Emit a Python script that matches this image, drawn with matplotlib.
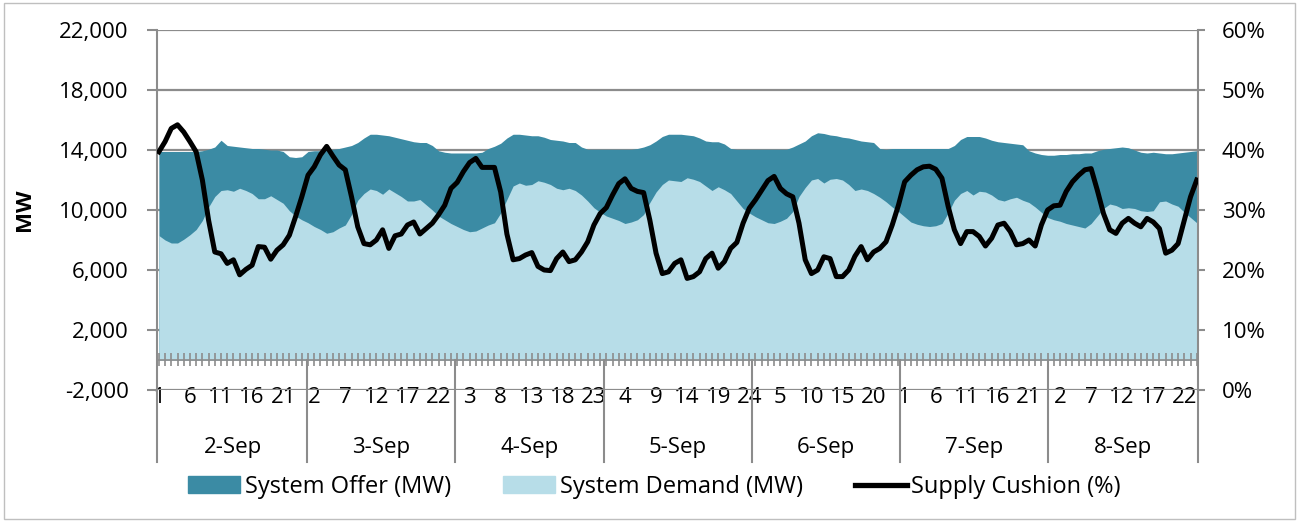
import numpy as np
import matplotlib.pyplot as plt
from matplotlib.patches import Patch, Rectangle
from matplotlib.lines import Line2D
from matplotlib.ticker import FuncFormatter

plt.rcParams['font.family'] = ['Open Sans', 'DejaVu Sans']

days = ["2-Sep", "3-Sep", "4-Sep", "5-Sep", "6-Sep", "7-Sep", "8-Sep"]

# hourly system offer (MW), 7 days x 24 h
offer = [
    13900, 13900, 13900, 13900, 13900, 13900, 13900, 13950, 14050, 14200, 14650, 14300,
    14250, 14200, 14150, 14100, 14100, 14050, 14000, 14000, 13900, 13550, 13500, 13550,
    13900, 13950, 13950, 14000, 14050, 14100, 14200, 14300, 14500, 14800, 15050, 15050,
    15000, 14950, 14850, 14750, 14650, 14550, 14500, 14500, 14300, 13950, 13850, 13800,
    13800, 13800, 13800, 13800, 13850, 14100, 14250, 14450, 14800, 15050, 15050, 15000,
    14950, 14950, 14850, 14700, 14650, 14600, 14500, 14500, 14200, 14050, 14050, 14050,
    14050, 14050, 14050, 14050, 14050, 14100, 14200, 14350, 14600, 14900, 15050, 15050,
    15050, 15000, 14950, 14800, 14600, 14550, 14550, 14400, 14100, 14050, 14050, 14050,
    14050, 14050, 14050, 14050, 14050, 14050, 14200, 14400, 14600, 14950, 15150, 15100,
    15000, 14950, 14850, 14800, 14700, 14600, 14550, 14500, 14100, 14050, 14100, 14100,
    14100, 14100, 14100, 14100, 14100, 14100, 14100, 14100, 14300, 14700, 14900, 14900,
    14900, 14800, 14650, 14550, 14500, 14450, 14400, 14350, 13950, 13800, 13700, 13650,
    13650, 13700, 13700, 13750, 13750, 13800, 13800, 13950, 14050, 14100, 14150, 14200,
    14150, 14000, 13850, 13800, 13850, 13800, 13750, 13750, 13800, 13850, 13900, 13950,
]

# hourly system demand (MW)
demand = [
    8300, 8000, 7800, 7800, 8050, 8350, 8700, 9300, 10200, 10900, 11300, 11350,
    11250, 11450, 11300, 11100, 10750, 10750, 10950, 10700, 10450, 9950, 9600, 9350,
    9150, 8900, 8700, 8450, 8550, 8800, 9000, 9700, 10650, 11100, 11400, 11300,
    11050, 11400, 11150, 10900, 10600, 10600, 10700, 10350, 10000, 9600, 9350, 9100,
    8900, 8700, 8550, 8600, 8800, 9000, 9150, 9800, 10700, 11600, 11800, 11650,
    11700, 11950, 11850, 11700, 11450, 11350, 11450, 11300, 11000, 10600, 10150, 9850,
    9600, 9450, 9300, 9100, 9200, 9350, 9700, 10500, 11200, 11700, 12000, 11950,
    11900, 12150, 12050, 11900, 11600, 11300, 11550, 11350, 11100, 10600, 10100, 9800,
    9550, 9350, 9150, 9100, 9250, 9450, 9900, 10900, 11500, 12000, 12100, 11800,
    12050, 12100, 12000, 11700, 11300, 11400, 11300, 11100, 10850, 10550, 10200, 9900,
    9550, 9200, 9050, 8950, 8900, 8950, 9100, 9800, 10650, 11100, 11300, 11000,
    11250, 11200, 11000, 10700, 10600, 10750, 10850, 10650, 10500, 10200, 9850, 9500,
    9350, 9250, 9100, 9000, 8900, 8800, 9100, 9600, 10100, 10400, 10300, 10100,
    10150, 10100, 9950, 9900, 9950, 10550, 10600, 10400, 10250, 9850, 9500, 9150,
]

# hourly supply cushion (%)
cushion = [
    39.7, 41.4, 43.6, 44.2, 43.0, 41.4, 39.7, 35.0, 28.3, 23.0, 22.7, 21.1,
    21.7, 19.2, 20.1, 20.8, 23.9, 23.8, 21.8, 23.3, 24.2, 25.8, 28.9, 32.2,
    35.8, 37.2, 39.2, 40.6, 39.0, 37.5, 36.7, 32.2, 27.2, 24.4, 24.2, 25.0,
    26.7, 23.6, 25.7, 26.0, 27.5, 28.0, 26.0, 26.9, 27.8, 29.2, 30.8, 33.6,
    34.6, 36.4, 37.9, 38.6, 37.1, 37.1, 37.1, 33.0, 26.0, 21.7, 21.9, 22.5,
    22.9, 20.6, 20.0, 19.9, 21.9, 23.0, 21.4, 21.7, 23.0, 24.7, 27.5, 29.4,
    30.4, 32.5, 34.4, 35.2, 33.6, 33.1, 32.9, 28.3, 22.8, 19.4, 19.7, 21.1,
    21.7, 18.6, 18.9, 19.7, 21.9, 22.8, 20.3, 21.4, 23.6, 24.6, 27.8, 30.3,
    31.7, 33.3, 34.9, 35.6, 33.6, 32.7, 32.2, 27.8, 21.7, 19.4, 20.0, 22.2,
    21.9, 18.9, 18.9, 20.0, 22.3, 23.9, 21.7, 23.0, 23.6, 24.7, 27.5, 30.8,
    34.7, 35.8, 36.7, 37.2, 37.3, 36.8, 35.3, 30.6, 26.7, 24.4, 26.4, 26.4,
    25.6, 24.0, 25.3, 27.5, 27.8, 26.4, 24.2, 24.4, 25.0, 24.0, 27.5, 30.0,
    30.7, 30.8, 33.1, 34.7, 35.8, 36.7, 36.9, 33.3, 29.4, 26.7, 26.1, 27.8,
    28.6, 27.8, 27.2, 28.6, 28.0, 26.9, 22.8, 23.3, 24.4, 28.3, 32.2, 35.0,
]

n = len(offer)
x = np.arange(n)
hours = [str(i % 24 + 1) for i in range(n)]

dark = "#3B8BA4"
light = "#B7DDE8"
grey = "#8C8C8C"
fs = 16

fig = plt.figure(figsize=(12.99, 5.22), dpi=100)
ax = fig.add_axes([157/1299, 1 - 390/522, (1198 - 157)/1299, 360/522])

ax.fill_between(x, 0, offer, color=dark, lw=0, zorder=2)
ax.fill_between(x, 0, demand, color=light, lw=0, zorder=3)

ax.set_xlim(-0.3, n - 0.8)
ax.set_ylim(-2000, 22000)
ax.set_yticks(np.arange(-2000, 22001, 4000))
ax.yaxis.set_major_formatter(FuncFormatter(lambda v, p: f"{int(v):,}"))
ax.grid(axis='y', color=grey, lw=1.6, zorder=0)
ax.set_axisbelow(True)
ax.tick_params(axis='y', labelsize=fs, length=7.5, width=1.5, color=grey, pad=13)
ax.set_ylabel("MW", fontsize=fs, fontweight='bold')
ax.yaxis.set_label_coords(-0.117, 0.5)

ax.set_xticks(x[::5])
ax.set_xticklabels(hours[::5], fontsize=fs)
ax.tick_params(axis='x', length=0, pad=-2)

for s in ['top', 'bottom', 'right']:
    ax.spines[s].set_visible(False)
ax.spines['left'].set_color(grey)
ax.spines['left'].set_linewidth(1.5)

# category axis at zero with a tick for each hour
ax.axhline(0, color=grey, lw=1.2, zorder=4)
ax.vlines(x, -420, 450, color=grey, lw=1.2, zorder=4)

# day group separators and labels below the axis
span = (n - 1) / 7
bottom = -6800
for k in range(8):
    xx = -0.3 if k == 0 else (n - 0.8 if k == 7 else k * span)
    top = -2000 if k in (0, 7) else 0
    ax.plot([xx, xx], [top, bottom], color=grey, lw=1.5, clip_on=False, zorder=4)
for k, d in enumerate(days):
    ax.text((k + 0.5) * span, -5800, d, ha='center', va='center', fontsize=fs, clip_on=False)

ax2 = ax.twinx()
ax2.plot(x, np.array(cushion) / 100, color='black', lw=3.6, zorder=5, solid_joinstyle='round')
ax2.set_ylim(0, 0.6)
ax2.set_yticks(np.arange(0, 0.61, 0.1))
ax2.yaxis.set_major_formatter(FuncFormatter(lambda v, p: f"{v*100:.0f}%"))
ax2.tick_params(axis='y', labelsize=fs, length=5, width=1.5, color=grey, pad=12)
for s in ['top', 'bottom', 'left']:
    ax2.spines[s].set_visible(False)
ax2.spines['right'].set_color(grey)
ax2.spines['right'].set_linewidth(1.5)

handles = [Patch(color=dark), Patch(color=light), Line2D([], [], color='black', lw=3.8)]
labels = ["System Offer (MW)", "System Demand (MW)", "Supply Cushion (%)"]
fig.legend(handles, labels, loc='center', bbox_to_anchor=(0.504, 1 - 487/522), ncol=3,
           frameon=False, fontsize=17, handlelength=2.2, handleheight=0.75,
           handletextpad=0.2, columnspacing=2.2)

fig.patches.append(Rectangle((4/1299, 3/522), 1291/1299, 516/522, transform=fig.transFigure,
                             fill=False, edgecolor="#BFBFBF", lw=1))

fig.savefig("out.png", dpi=100)
